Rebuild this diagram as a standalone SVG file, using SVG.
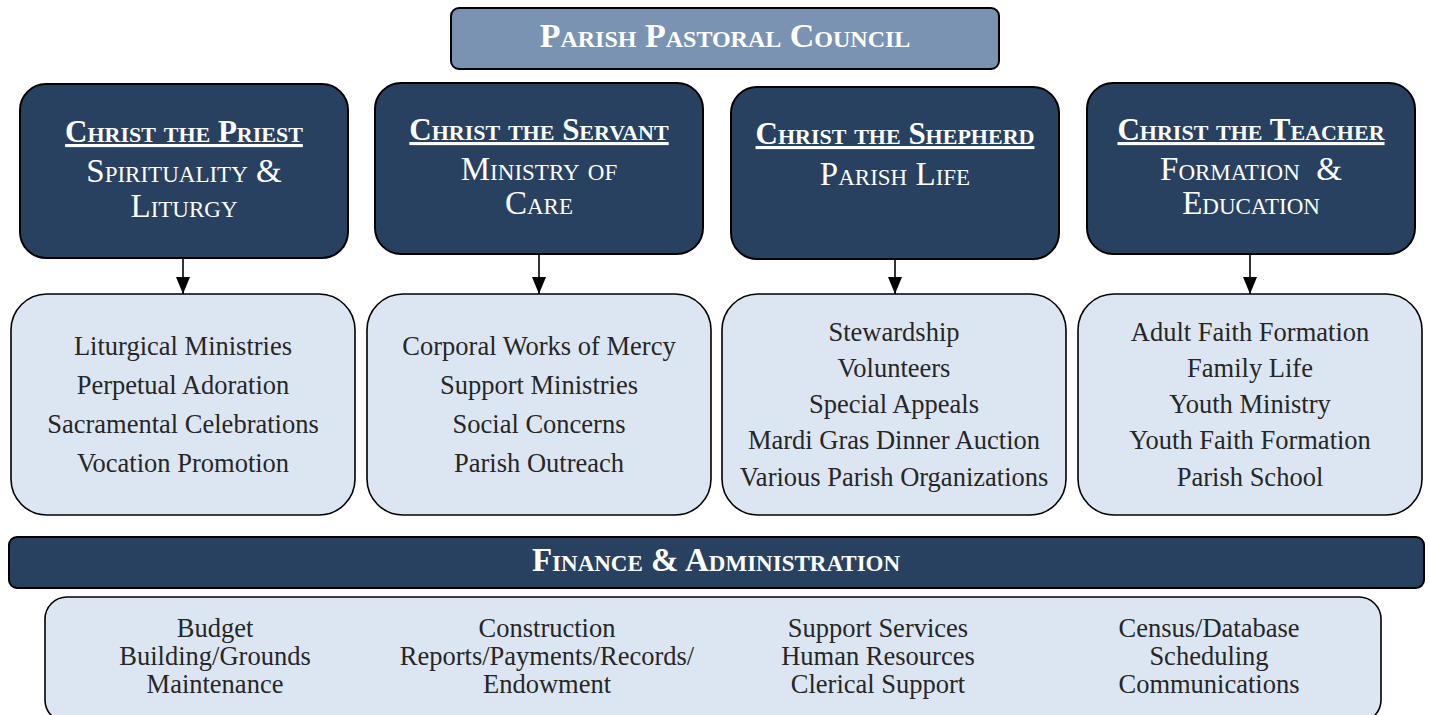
<svg xmlns="http://www.w3.org/2000/svg" width="1429" height="715" viewBox="0 0 1429 715">
<defs>
<style>
.dark{fill:#294160;stroke:#000;stroke-width:2}
.light{fill:#dce6f2;stroke:#000;stroke-width:1.6}
.top{fill:#7a93b3;stroke:#000;stroke-width:2}
.hd{font-family:"Liberation Serif","Times New Roman",serif;font-weight:bold;font-variant:small-caps;fill:#fff;text-anchor:middle}
.sub{font-family:"Liberation Serif","Times New Roman",serif;font-variant:small-caps;fill:#fff;text-anchor:middle;font-size:33px}
.item{font-family:"Liberation Serif","Times New Roman",serif;fill:#262626;text-anchor:middle;font-size:26.5px}
.conn{stroke:#000;stroke-width:1.6;fill:none}
</style>
<marker id="ah" markerWidth="17" markerHeight="14" refX="17" refY="7" orient="auto" markerUnits="userSpaceOnUse" viewBox="0 0 17 14">
<path d="M0,0 L17,7 L0,14 Z" fill="#000"/>
</marker>
</defs>

<g id="council">
<rect class="top" x="451" y="8" width="548" height="61" rx="8"/>
<text class="hd" x="725" y="47" font-size="34">Parish Pastoral Council</text>
</g>

<g id="priest">
<rect class="dark" x="20" y="84" width="328" height="174" rx="26"/>
<text class="hd" x="184" y="142" font-size="31" text-decoration="underline">Christ the Priest</text>
<text class="sub" x="184" y="182">Spirituality &amp;</text>
<text class="sub" x="184" y="217">Liturgy</text>
</g>

<g id="servant">
<rect class="dark" x="375" y="83" width="328" height="171" rx="26"/>
<text class="hd" x="539" y="140" font-size="31" text-decoration="underline">Christ the Servant</text>
<text class="sub" x="539" y="180">Ministry of</text>
<text class="sub" x="539" y="214">Care</text>
</g>

<g id="shepherd">
<rect class="dark" x="731" y="87" width="328" height="172" rx="26"/>
<text class="hd" x="895" y="144" font-size="31" text-decoration="underline">Christ the Shepherd</text>
<text class="sub" x="895" y="185">Parish Life</text>
</g>

<g id="teacher">
<rect class="dark" x="1087" y="83" width="328" height="171" rx="26"/>
<text class="hd" x="1251" y="140" font-size="31" text-decoration="underline">Christ the Teacher</text>
<text class="sub" x="1251" y="180" xml:space="preserve">Formation  &amp;</text>
<text class="sub" x="1251" y="214">Education</text>
</g>

<g id="connectors">
<line class="conn" x1="183" y1="258" x2="183" y2="294" marker-end="url(#ah)"/>
<line class="conn" x1="539" y1="254" x2="539" y2="294" marker-end="url(#ah)"/>
<line class="conn" x1="895" y1="259" x2="895" y2="294" marker-end="url(#ah)"/>
<line class="conn" x1="1250" y1="254" x2="1250" y2="294" marker-end="url(#ah)"/>
</g>

<g id="priest-list">
<rect class="light" x="11" y="294" width="344" height="221" rx="36"/>
<text class="item" x="183" y="355">Liturgical Ministries</text>
<text class="item" x="183" y="394">Perpetual Adoration</text>
<text class="item" x="183" y="433">Sacramental Celebrations</text>
<text class="item" x="183" y="472">Vocation Promotion</text>
</g>

<g id="servant-list">
<rect class="light" x="367" y="294" width="344" height="221" rx="36"/>
<text class="item" x="539" y="355">Corporal Works of Mercy</text>
<text class="item" x="539" y="394">Support Ministries</text>
<text class="item" x="539" y="433">Social Concerns</text>
<text class="item" x="539" y="472">Parish Outreach</text>
</g>

<g id="shepherd-list">
<rect class="light" x="722" y="294" width="344" height="221" rx="36"/>
<text class="item" x="894" y="341">Stewardship</text>
<text class="item" x="894" y="377">Volunteers</text>
<text class="item" x="894" y="413">Special Appeals</text>
<text class="item" x="894" y="449">Mardi Gras Dinner Auction</text>
<text class="item" x="894" y="486">Various Parish Organizations</text>
</g>

<g id="teacher-list">
<rect class="light" x="1078" y="294" width="344" height="221" rx="36"/>
<text class="item" x="1250" y="341">Adult Faith Formation</text>
<text class="item" x="1250" y="377">Family Life</text>
<text class="item" x="1250" y="413">Youth Ministry</text>
<text class="item" x="1250" y="449">Youth Faith Formation</text>
<text class="item" x="1250" y="486">Parish School</text>
</g>

<g id="finance">
<rect class="dark" x="9" y="537" width="1415" height="51" rx="8"/>
<text class="hd" x="716" y="571" font-size="33">Finance &amp; Administration</text>
</g>

<g id="finance-list">
<rect class="light" x="45" y="597" width="1336" height="125" rx="22"/>
<text class="item" x="215" y="637">Budget</text>
<text class="item" x="215" y="665">Building/Grounds</text>
<text class="item" x="215" y="693">Maintenance</text>
<text class="item" x="547" y="637">Construction</text>
<text class="item" x="547" y="665">Reports/Payments/Records/</text>
<text class="item" x="547" y="693">Endowment</text>
<text class="item" x="878" y="637">Support Services</text>
<text class="item" x="878" y="665">Human Resources</text>
<text class="item" x="878" y="693">Clerical Support</text>
<text class="item" x="1209" y="637">Census/Database</text>
<text class="item" x="1209" y="665">Scheduling</text>
<text class="item" x="1209" y="693">Communications</text>
</g>
</svg>
